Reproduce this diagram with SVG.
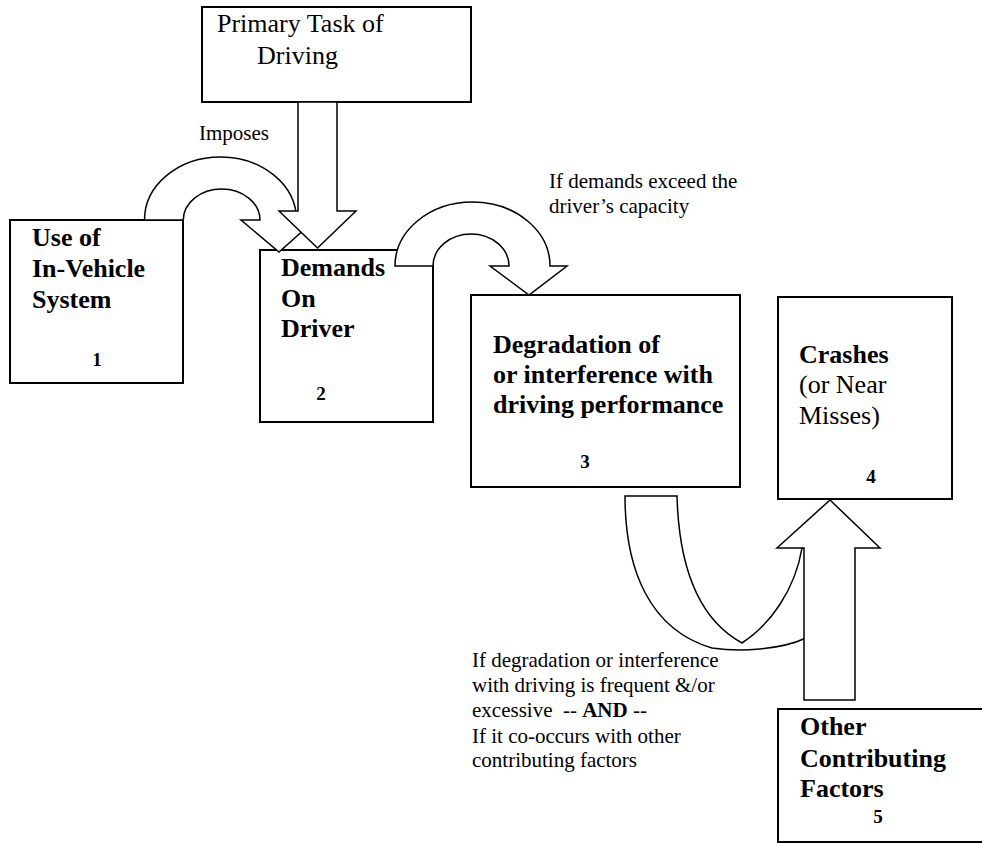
<svg xmlns="http://www.w3.org/2000/svg" width="982" height="843" viewBox="0 0 982 843">
<style>
text{font-family:"Liberation Serif","Times New Roman",serif;fill:#000}
.box{fill:#fff;stroke:#000;stroke-width:2}
.arr{fill:#fff;stroke:#000;stroke-width:1.5;stroke-linejoin:miter}
.b{font-weight:bold;font-size:26px}
.r{font-size:26px}
.n{font-weight:bold;font-size:19px;text-anchor:middle}
.s{font-size:21px}
</style>
<rect width="982" height="843" fill="#fff"/>
<g id="node-primary">
<rect class="box" x="202" y="7" width="269" height="95"/>
<text class="r" x="217" y="32">Primary Task of</text>
<text class="r" x="257" y="64">Driving</text>
</g>
<g id="node-1">
<rect class="box" x="10" y="220" width="173" height="163"/>
<text class="b" x="32" y="246">Use of</text>
<text class="b" x="32" y="277">In-Vehicle</text>
<text class="b" x="32" y="308">System</text>
<text class="n" x="97" y="366">1</text>
</g>
<g id="node-2">
<rect class="box" x="260" y="250" width="173" height="172"/>
<text class="b" x="281" y="276">Demands</text>
<text class="b" x="281" y="307">On</text>
<text class="b" x="281" y="337">Driver</text>
<text class="n" x="321" y="400">2</text>
</g>
<g id="node-3">
<rect class="box" x="471" y="295" width="269" height="192"/>
<text class="b" x="493" y="353">Degradation of</text>
<text class="b" x="493" y="383">or interference with</text>
<text class="b" x="493" y="413">driving performance</text>
<text class="n" x="585" y="468">3</text>
</g>
<g id="node-4">
<rect class="box" x="778" y="297" width="174" height="202"/>
<text class="b" x="799" y="363">Crashes</text>
<text class="r" x="799" y="393">(or Near</text>
<text class="r" x="799" y="424">Misses)</text>
<text class="n" x="871" y="483">4</text>
</g>
<g id="node-5">
<rect class="box" x="778" y="709" width="210" height="133"/>
<text class="b" x="800" y="735">Other</text>
<text class="b" x="800" y="767">Contributing</text>
<text class="b" x="800" y="797">Factors</text>
<text class="n" x="878" y="823">5</text>
</g>
<g id="connectors">
<path class="arr" d="M144.5,220 A76,63 0 0 1 296.5,220 L315,220 L279,252 L241,220 L260,220 A38.3,31 0 0 0 183.3,220 Z"/>
<polygon class="arr" points="298,102 337,102 337,211 356,211 317.5,248 279,211 298,211"/>
<path class="arr" d="M395,266 A77.5,64 0 0 1 550,266 L567,266 L529,295 L490,266 L509,266 A38,32 0 0 0 433,266 Z"/>
<path class="arr" d="M625,496 L677,496 C679,570 700,620 742,643 C770,625 795,590 802,548 L806,548 L806,638 C780,650 740,652 712,648 C650,630 625,570 625,496 Z"/>
<polygon class="arr" points="804,700 855,700 855,548 880,548 830,500 777,548 804,548"/>
</g>
<g id="labels">
<text class="s" x="199" y="140">Imposes</text>
<text class="s" x="549" y="188">If demands exceed the</text>
<text class="s" x="549" y="213">driver’s capacity</text>
<text class="s" x="472" y="667">If degradation or interference</text>
<text class="s" x="472" y="692">with driving is frequent &amp;/or</text>
<text class="s" x="472" y="717" xml:space="preserve">excessive  -- <tspan font-weight="bold">AND</tspan> --</text>
<text class="s" x="472" y="743">If it co-occurs with other</text>
<text class="s" x="472" y="767">contributing factors</text>
</g>
</svg>
